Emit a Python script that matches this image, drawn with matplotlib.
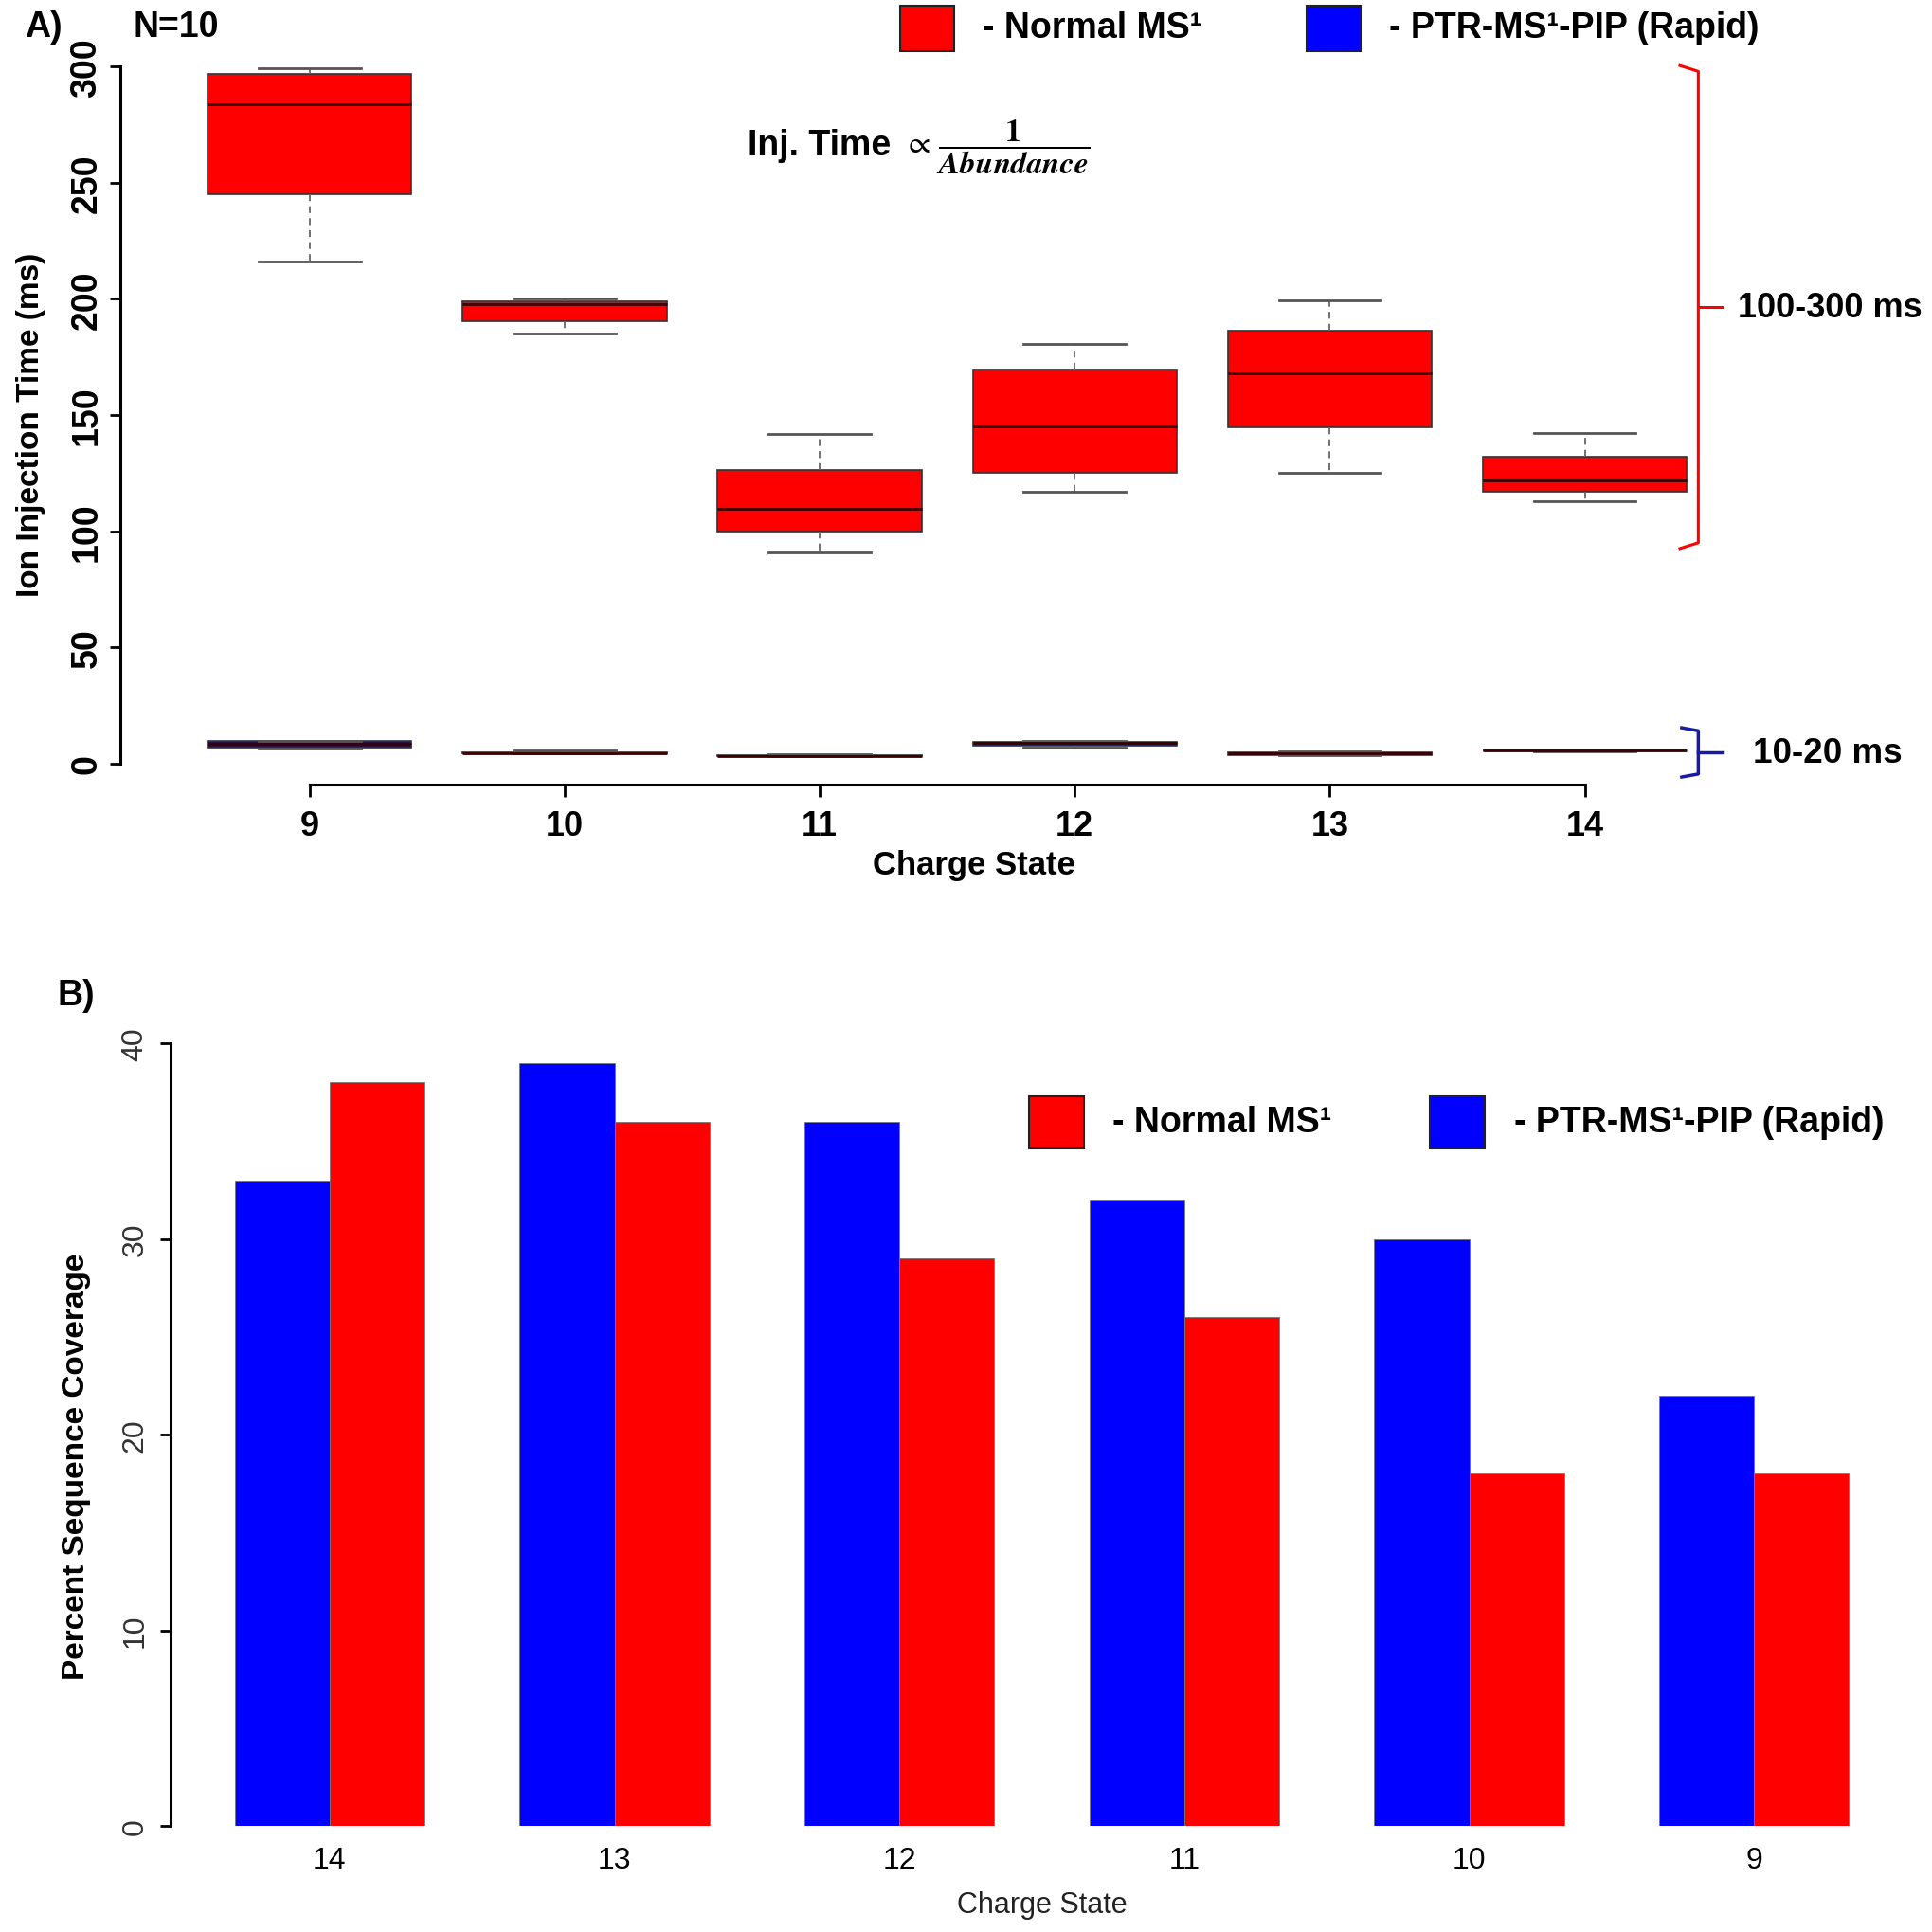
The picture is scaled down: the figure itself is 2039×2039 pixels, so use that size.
import matplotlib
matplotlib.use('Agg')
import matplotlib.pyplot as plt
from matplotlib.patches import Rectangle
import numpy as np

# panel A: ion injection time box stats (ms)
charges = [9, 10, 11, 12, 13, 14]
normal_whislo = [216, 185, 91, 117, 125, 113]
normal_q1 = [245, 190.5, 100, 125, 144.5, 116.8]
normal_med = [284, 197.8, 109.5, 145, 168, 121.7]
normal_q3 = [297, 199, 126.5, 169.4, 186.5, 132.2]
normal_whishi = [299.5, 200, 142, 180.6, 199.4, 142.3]

rapid_whislo = [6.5, 4.2, 3.0, 6.8, 3.4, 5.3]
rapid_q1 = [6.8, 4.3, 3.1, 7.5, 3.6, 5.35]
rapid_med = [8.5, 4.5, 3.3, 8.8, 4.2, 5.4]
rapid_q3 = [9.5, 4.7, 3.6, 9.4, 4.9, 5.45]
rapid_whishi = [9.6, 5.6, 4.0, 9.5, 5.0, 5.5]

# panel B: percent sequence coverage
bar_labels = ['14', '13', '12', '11', '10', '9']
rapid_cov = [33, 39, 36, 32, 30, 22]
normal_cov = [38, 36, 29, 26, 18, 18]

RED = '#ff0000'
BLUE = '#0000ff'
NARROW = ['Liberation Sans Narrow', 'Liberation Sans', 'DejaVu Sans']
WIDE = ['Liberation Sans', 'DejaVu Sans']

plt.rcParams['mathtext.fontset'] = 'stix'

fig = plt.figure(figsize=(20.4, 20.4), dpi=100)


def make_stats(lo, q1, med, q3, hi):
    stats = []
    for i in range(len(lo)):
        stats.append({'whislo': lo[i], 'q1': q1[i], 'med': med[i],
                      'q3': q3[i], 'whishi': hi[i], 'fliers': []})
    return stats


# ---------------- panel A ----------------
ax1 = fig.add_axes([0.0625, 0.5938, 1.0 - 0.0625, 0.9758 - 0.5938])

for lo, q1, med, q3, hi, col in [
        (normal_whislo, normal_q1, normal_med, normal_q3, normal_whishi, RED),
        (rapid_whislo, rapid_q1, rapid_med, rapid_q3, rapid_whishi, BLUE)]:
    ax1.bxp(make_stats(lo, q1, med, q3, hi), positions=charges, widths=0.8,
            capwidths=0.4, patch_artist=True, showfliers=False,
            boxprops=dict(facecolor=col, edgecolor='#333333', linewidth=1.2),
            whiskerprops=dict(color='#666666', linestyle=(0, (4, 3)), linewidth=1.3),
            capprops=dict(color='#555555', linewidth=2),
            medianprops=dict(color='#3a0000', linewidth=2))

ax1.set_xlim(8.26, 15.365)
ax1.set_ylim(-9, 309)
for s in ['top', 'right']:
    ax1.spines[s].set_visible(False)
ax1.spines['left'].set_bounds(0, 300)
ax1.spines['bottom'].set_bounds(9, 14)
ax1.spines['left'].set_linewidth(2.2)
ax1.spines['bottom'].set_linewidth(2.2)
ax1.set_yticks([0, 50, 100, 150, 200, 250, 300])
ax1.set_xticks(charges)
ax1.set_xticklabels([str(c) for c in charges])
ax1.tick_params(axis='y', length=8, width=2, pad=5, labelsize=27, labelrotation=90)
ax1.tick_params(axis='x', length=9, width=2, pad=10, labelsize=26)
for lbl in ax1.get_yticklabels():
    lbl.set_fontweight('bold')
    lbl.set_family(WIDE)
    lbl.set_va('center')
for lbl in ax1.get_xticklabels():
    lbl.set_fontweight('bold')
    lbl.set_family(NARROW)

ax1.set_ylabel('Ion Injection Time (ms)', fontsize=24, fontweight='bold',
               family=WIDE, va='center')
ax1.yaxis.set_label_coords(-0.0497, 0.4875)
ax1.set_xlabel('Charge State', fontsize=25, fontweight='bold', family=NARROW, va='center')
ax1.xaxis.set_label_coords(0.4707, -0.1085)

# brackets
ax1.plot([14.373, 14.445, 14.445, 14.373], [300.5, 298, 95, 92.5],
         color=RED, lw=2.2, clip_on=False)
ax1.plot([14.445, 14.537], [196.5, 196.5], color=RED, lw=2.2, clip_on=False)
ax1.text(14.6, 196.5, '100-300 ms', fontsize=26, fontweight='bold',
         family=NARROW, va='center', ha='left')
ax1.plot([14.38, 14.445, 14.445, 14.38], [15.3, 14.0, -4.6, -5.9],
         color='#1a1aa8', lw=2.5, clip_on=False)
ax1.plot([14.445, 14.54], [4.6, 4.6], color='#1a1aa8', lw=2.5, clip_on=False)
ax1.text(14.658, 4.6, '10-20 ms', fontsize=26.5, fontweight='bold',
         family=NARROW, va='center', ha='left')

# formula
fig.text(0.387, 0.9247, 'Inj. Time', fontsize=27, fontweight='bold',
         family=WIDE, va='center', ha='left')
fig.text(0.4675, 0.9240, r'$\propto\,\dfrac{\mathbf{1}}{\mathbfit{Abundance}}$',
         fontsize=24, va='center', ha='left')

fig.text(0.0223, 0.986, 'A)', fontsize=27, fontweight='bold', family=NARROW,
         va='center', ha='center')
fig.text(0.0689, 0.986, 'N=10', fontsize=27, fontweight='bold', family=NARROW,
         va='center', ha='left')

# legend A
for x0, col, txt, tx in [(0.4656, RED, '- Normal MS\u00b9', 0.5083),
                         (0.676, BLUE, '- PTR-MS\u00b9-PIP (Rapid)', 0.7187)]:
    fig.patches.append(Rectangle((x0, 0.9732), 0.0278, 0.0236, transform=fig.transFigure,
                                 facecolor=col, edgecolor='#222222', lw=1.5))
    fig.text(tx, 0.9853, txt, fontsize=27, fontweight='bold', family=NARROW,
             va='center', ha='left')

# ---------------- panel B ----------------
ax2 = fig.add_axes([0.088, 0.0548, 0.990 - 0.088, 0.4659 - 0.0548])
centers = np.arange(len(bar_labels)) * 3 + 2
ax2.bar(centers - 0.5, rapid_cov, width=1.0, color=BLUE, edgecolor='#777777', linewidth=0.6)
ax2.bar(centers + 0.5, normal_cov, width=1.0, color=RED, edgecolor='#777777', linewidth=0.6)
ax2.set_xlim(0.32, 18.68)
ax2.set_ylim(0, 40.6)
for s in ['top', 'right', 'bottom']:
    ax2.spines[s].set_visible(False)
ax2.spines['left'].set_bounds(0, 40)
ax2.spines['left'].set_linewidth(2.2)
ax2.set_yticks([0, 10, 20, 30, 40])
ax2.set_xticks(centers)
ax2.set_xticklabels(bar_labels)
ax2.tick_params(axis='y', length=8, width=2, pad=8, labelsize=23, labelrotation=90,
                labelcolor='#333333')
ax2.tick_params(axis='x', length=0, pad=15, labelsize=23)
for lbl in ax2.get_yticklabels():
    lbl.set_family(WIDE)
    lbl.set_va('center')
for lbl in ax2.get_xticklabels():
    lbl.set_family(NARROW)

ax2.set_ylabel('Percent Sequence Coverage', fontsize=24, fontweight='bold',
               family=WIDE, va='center')
ax2.yaxis.set_label_coords(-0.0537, 0.453)
ax2.set_xlabel('Charge State', fontsize=22, family=NARROW, va='center', color='#222222')
ax2.xaxis.set_label_coords(0.5, -0.0993)

fig.text(0.0392, 0.4847, 'B)', fontsize=27, fontweight='bold', family=NARROW,
         va='center', ha='center')

# legend B
for x0, col, txt, tx in [(0.5325, RED, '- Normal MS\u00b9', 0.5753),
                         (0.7398, BLUE, '- PTR-MS\u00b9-PIP (Rapid)', 0.7832)]:
    fig.patches.append(Rectangle((x0, 0.4056), 0.0284, 0.0268, transform=fig.transFigure,
                                 facecolor=col, edgecolor='#222222', lw=1.5))
    fig.text(tx, 0.419, txt, fontsize=27, fontweight='bold', family=NARROW,
             va='center', ha='left')

fig.savefig('out.png', dpi=100)
